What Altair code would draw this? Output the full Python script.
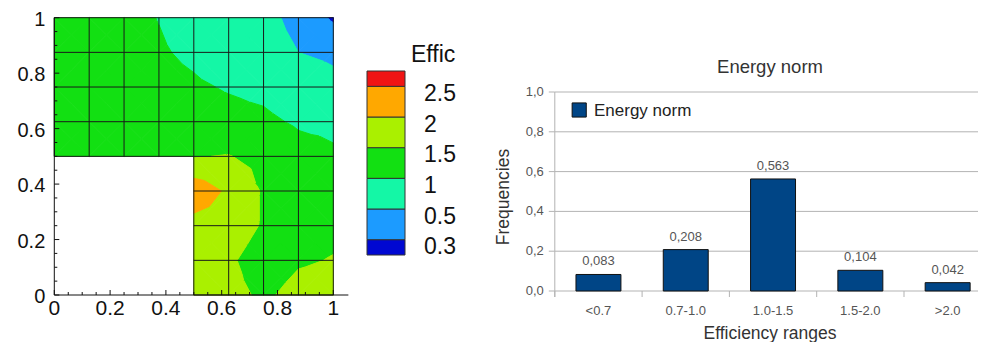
import math
import altair as alt
import pandas as pd

# ---------------- left panel data: nodal efficiency index on the L-shaped mesh ----------------
mesh_x = [0.0, 0.125, 0.25, 0.375, 0.5, 0.625, 0.75, 0.875, 1.0]
mesh_y = [0.0, 0.125, 0.25, 0.375, 0.5, 0.625, 0.75, 0.875, 1.0]

# one list per mesh row (y = 0 ... 1); None = node outside the L-shaped domain
effic_y0000 = [None, None, None, None, 1.85, 1.65, 1.42, 1.65, 1.70]
effic_y0125 = [None, None, None, None, 1.80, 1.58, 1.25, 1.45, 1.52]
effic_y0250 = [None, None, None, None, 1.83, 1.80, 1.45, 1.35, 1.40]
effic_y0375 = [None, None, None, None, 2.30, 1.92, 1.45, 1.30, 1.25]
effic_y0500 = [1.38, 1.38, 1.38, 1.40, 1.48, 1.52, 1.35, 1.15, 1.05]
effic_y0625 = [1.35, 1.32, 1.28, 1.22, 1.18, 1.12, 1.08, 0.95, 0.92]
effic_y0750 = [1.32, 1.28, 1.20, 1.12, 1.05, 0.97, 0.90, 0.75, 0.62]
effic_y0875 = [1.30, 1.22, 1.12, 1.04, 0.93, 0.80, 0.66, 0.50, 0.42]
effic_y1000 = [1.25, 1.18, 1.10, 0.99, 0.85, 0.72, 0.60, 0.40, 0.28]
effic_rows = [effic_y0000, effic_y0125, effic_y0250, effic_y0375, effic_y0500,
              effic_y0625, effic_y0750, effic_y0875, effic_y1000]

contour_levels = [0.3, 0.5, 1.0, 1.5, 2.0, 2.5]
contour_level_labels = ["0.3", "0.5", "1", "1.5", "2", "2.5"]
band_colors = ["#0008d2", "#1c9bff", "#14f7a6", "#12e012", "#aaf000", "#ffa800", "#f01414"]

left_tick_values = [0.0, 0.2, 0.4, 0.6, 0.8, 1.0]
left_tick_labels = ["0", "0.2", "0.4", "0.6", "0.8", "1"]
left_minor_ticks = [0.05, 0.1, 0.15, 0.25, 0.3, 0.35, 0.45, 0.5, 0.55, 0.65, 0.7, 0.75, 0.85, 0.9, 0.95]

# ---------------- right panel data ----------------
eff_ranges = ["<0.7", "0.7-1.0", "1.0-1.5", "1.5-2.0", ">2.0"]
frequencies = [0.083, 0.208, 0.563, 0.104, 0.042]
freq_tick_values = [0.0, 0.2, 0.4, 0.6, 0.8, 1.0]
freq_tick_labels = ["0,0", "0,2", "0,4", "0,6", "0,8", "1,0"]


# ---------------- filled contour bands (piecewise linear on 4 triangles per quad) ----------------
def clip(poly, level, keep_above):
    out = []
    n = len(poly)
    for k in range(n):
        cur, nxt = poly[k], poly[(k + 1) % n]
        cin = cur[2] >= level if keep_above else cur[2] <= level
        nin = nxt[2] >= level if keep_above else nxt[2] <= level
        if cin:
            out.append(cur)
        if cin != nin:
            t = (level - cur[2]) / (nxt[2] - cur[2])
            out.append((cur[0] + t * (nxt[0] - cur[0]), cur[1] + t * (nxt[1] - cur[1]), level))
    return out


lows = [-math.inf] + contour_levels
highs = contour_levels + [math.inf]
poly_rows = []
pid = 0
for j in range(8):
    for i in range(8):
        corners = [(i, j), (i + 1, j), (i + 1, j + 1), (i, j + 1)]
        if any(effic_rows[b][a] is None for a, b in corners):
            continue
        pts = [(mesh_x[a], mesh_y[b], effic_rows[b][a]) for a, b in corners]
        cen = tuple(sum(p[q] for p in pts) / 4 for q in range(3))
        for k in range(4):
            tri = [pts[k], pts[(k + 1) % 4], cen]
            for b in range(len(band_colors)):
                poly = tri
                if lows[b] > -math.inf:
                    poly = clip(poly, lows[b], True)
                if len(poly) >= 3 and highs[b] < math.inf:
                    poly = clip(poly, highs[b], False)
                if len(poly) >= 3:
                    closed = poly + [poly[0]]
                    for o, (px, py, _) in enumerate(closed):
                        poly_rows.append({"pid": pid, "o": o, "x": px, "y": py, "c": band_colors[b]})
                    pid += 1
poly_df = pd.DataFrame(poly_rows)

# mesh lines
mesh_rows = []
for xv in mesh_x:
    mesh_rows.append({"x": xv, "x2": xv, "y": 0.5 if xv < 0.5 else 0.0, "y2": 1.0})
for yv in mesh_y:
    mesh_rows.append({"x": 0.5 if yv < 0.5 else 0.0, "x2": 1.0, "y": yv, "y2": yv})
mesh_df = pd.DataFrame(mesh_rows)

XA = alt.Scale(domain=[0, 1], range=[46.3, 325.3], nice=False, zero=False)
YA = alt.Scale(domain=[0, 1], range=[287, 9.7], nice=False, zero=False)


def xa(f):
    return alt.X(f, scale=XA, axis=None)


def ya(f):
    return alt.Y(f, scale=YA, axis=None)


LFONT = "Liberation Sans"

contour = alt.Chart(poly_df).mark_line(filled=True, strokeWidth=1, strokeJoin="round").encode(
    x=xa("x:Q"), y=ya("y:Q"), detail="pid:N", order="o:Q",
    color=alt.Color("c:N", scale=None), stroke=alt.Stroke("c:N", scale=None),
)
mesh = alt.Chart(mesh_df).mark_rule(color="#1a1a1a", strokeWidth=1).encode(
    x=xa("x:Q"), x2="x2:Q", y=ya("y:Q"), y2="y2:Q"
)
axes_df = pd.DataFrame({"x": [0.0, 0.0], "x2": [1.054, 0.0], "y": [0.0, 0.0], "y2": [0.0, 1.0]})
axis_lines = alt.Chart(axes_df).mark_rule(color="#111111", strokeWidth=1).encode(
    x=xa("x:Q"), x2="x2:Q", y=ya("y:Q"), y2="y2:Q"
)
major_df = pd.DataFrame({"v": left_tick_values, "z": [0.0] * len(left_tick_values), "lab": left_tick_labels})
minor_df = pd.DataFrame({"v": left_minor_ticks, "z": [0.0] * len(left_minor_ticks)})
xt_major = alt.Chart(major_df).mark_rule(color="#111111", y2Offset=-5).encode(x=xa("v:Q"), y=ya("z:Q"), y2="z:Q")
xt_minor = alt.Chart(minor_df).mark_rule(color="#111111", y2Offset=-3).encode(x=xa("v:Q"), y=ya("z:Q"), y2="z:Q")
yt_major = alt.Chart(major_df).mark_rule(color="#111111", x2Offset=5).encode(y=ya("v:Q"), x=xa("z:Q"), x2="z:Q")
yt_minor = alt.Chart(minor_df).mark_rule(color="#111111", x2Offset=3).encode(y=ya("v:Q"), x=xa("z:Q"), x2="z:Q")
x_labels = alt.Chart(major_df).mark_text(font=LFONT, fontSize=21, color="#111111", baseline="middle", dy=14).encode(
    x=xa("v:Q"), y=ya("z:Q"), text="lab:N"
)
y_labels = alt.Chart(major_df).mark_text(font=LFONT, fontSize=20, color="#111111", baseline="middle", align="right", dx=-9, dy=2).encode(
    y=ya("v:Q"), x=xa("z:Q"), text="lab:N"
)
left_panel = alt.layer(contour, mesh, axis_lines, xt_major, xt_minor, yt_major, yt_minor, x_labels, y_labels)

# ---------------- colour bar ----------------
nb = len(band_colors)
leg_df = pd.DataFrame({
    "c": band_colors,
    "lo": [max(0.0, k - 0.5) for k in range(nb)],
    "hi": [min(nb - 1.0, k + 0.5) for k in range(nb)],
    "x0": [0.0] * nb, "x1": [1.0] * nb,
})
leg_lab_df = pd.DataFrame({"pos": [k + 0.25 for k in range(len(contour_level_labels))],
                           "lab": contour_level_labels, "xx": [1.0] * len(contour_level_labels)})
XL = alt.Scale(domain=[0, 1], range=[359, 397], nice=False, zero=False)
YL = alt.Scale(domain=[0, 6], range=[247, 63], nice=False, zero=False)
leg_boxes = alt.Chart(leg_df).mark_rect(stroke="#333333", strokeWidth=1).encode(
    x=alt.X("x0:Q", scale=XL, axis=None), x2="x1:Q",
    y=alt.Y("lo:Q", scale=YL, axis=None), y2="hi:Q",
    color=alt.Color("c:N", scale=None),
)
leg_labels = alt.Chart(leg_lab_df).mark_text(font=LFONT, fontSize=23, color="#111111", align="left", baseline="middle", dx=19).encode(
    x=alt.X("xx:Q", scale=XL, axis=None), y=alt.Y("pos:Q", scale=YL, axis=None), text="lab:N"
)
leg_title = alt.Chart(pd.DataFrame({"t": ["Effic"], "xx": [1.0], "pos": [6.52]})).mark_text(
    font=LFONT, fontSize=23, color="#111111", align="left", baseline="middle", dx=6
).encode(x=alt.X("xx:Q", scale=XL, axis=None), y=alt.Y("pos:Q", scale=YL, axis=None), text="t:N")
legend_panel = alt.layer(leg_boxes, leg_labels, leg_title)

# ---------------- bar chart ----------------
RFONT = "Liberation Sans"
bar_df = pd.DataFrame({
    "r": eff_ranges, "f": frequencies, "zero": [0.0] * len(eff_ranges),
    "lab": [f"{v:.3f}".replace(".", ",") for v in frequencies],
})
XB = alt.Scale(type="band", domain=eff_ranges, range=[546.8, 983.3], paddingInner=0.485, paddingOuter=0.2425)
YB = alt.Scale(domain=[0, 1], range=[283, 84], nice=False, zero=False)
GX0, GX1 = 546.8, 975

grid_df = pd.DataFrame({"v": freq_tick_values, "lab": freq_tick_labels})
grid = alt.Chart(grid_df).mark_rule(color="#b3b3b3", strokeWidth=1).encode(
    y=alt.Y("v:Q", scale=YB, axis=None), x=alt.value(GX0), x2=alt.value(GX1)
)
ytick = alt.Chart(grid_df).mark_rule(color="#b3b3b3", strokeWidth=1).encode(
    y=alt.Y("v:Q", scale=YB, axis=None), x=alt.value(GX0 - 6), x2=alt.value(GX0)
)
ylab = alt.Chart(grid_df).mark_text(font=RFONT, fontSize=13, color="#555555", align="right", baseline="middle").encode(
    y=alt.Y("v:Q", scale=YB, axis=None), x=alt.value(GX0 - 11), text="lab:N"
)
yaxis_line = alt.Chart(pd.DataFrame({"a": [1.0], "b": [0.0]})).mark_rule(color="#b3b3b3", strokeWidth=1, y2Offset=6).encode(
    y=alt.Y("a:Q", scale=YB, axis=None), y2="b:Q", x=alt.value(GX0)
)
bars = alt.Chart(bar_df).mark_bar(color="#004586", stroke="#111111", strokeWidth=1).encode(
    x=alt.X("r:N", scale=XB, axis=None, sort=eff_ranges),
    y=alt.Y("f:Q", scale=YB, axis=None), y2="zero:Q",
)
xtick = alt.Chart(bar_df).mark_rule(color="#b3b3b3", strokeWidth=1, xOffset=-43.65, y2Offset=6).encode(
    x=alt.X("r:N", scale=XB, axis=None, sort=eff_ranges), y=alt.Y("zero:Q", scale=YB, axis=None), y2="zero:Q"
)
xlab = alt.Chart(bar_df).mark_text(font=RFONT, fontSize=13, color="#555555", baseline="middle", dy=20).encode(
    x=alt.X("r:N", scale=XB, axis=None, sort=eff_ranges), y=alt.Y("zero:Q", scale=YB, axis=None), text="r:N"
)
vlab = alt.Chart(bar_df).mark_text(font=RFONT, fontSize=13, color="#555555", baseline="middle", dy=-13).encode(
    x=alt.X("r:N", scale=XB, axis=None, sort=eff_ranges), y=alt.Y("f:Q", scale=YB, axis=None), text="lab:N"
)
texts_df = pd.DataFrame({"t": ["Energy norm"]})
title = alt.Chart(texts_df).mark_text(font=RFONT, fontSize=18.5, color="#333333", baseline="middle").encode(
    x=alt.value(762), y=alt.value(59), text="t:N"
)
xtitle = alt.Chart(pd.DataFrame({"t": ["Efficiency ranges"]})).mark_text(
    font=RFONT, fontSize=17.5, color="#333333", baseline="middle"
).encode(x=alt.value(762), y=alt.value(326), text="t:N")
ytitle = alt.Chart(pd.DataFrame({"t": ["Frequencies"]})).mark_text(
    font=RFONT, fontSize=17.5, color="#333333", baseline="middle", angle=270
).encode(x=alt.value(496), y=alt.value(189), text="t:N")
leg_sq = alt.Chart(texts_df).mark_square(size=200, color="#004586", stroke="#111111", strokeWidth=1, opacity=1).encode(
    x=alt.value(571.2), y=alt.value(102)
)
leg_txt = alt.Chart(texts_df).mark_text(font=RFONT, fontSize=17, color="#222222", align="left", baseline="middle").encode(
    x=alt.value(586), y=alt.value(102.5), text="t:N"
)
bar_panel = alt.layer(grid, ytick, yaxis_line, bars, xtick, xlab, vlab, ylab, title, xtitle, ytitle, leg_sq, leg_txt)

chart = alt.layer(left_panel, legend_panel, bar_panel).resolve_scale(
    x="independent", y="independent"
).properties(
    width=970, height=334, padding=0, autosize=alt.AutoSizeParams(type="none")
).configure_view(stroke=None)

chart.save("out.html", embed_options={"renderer": "svg", "actions": False})
